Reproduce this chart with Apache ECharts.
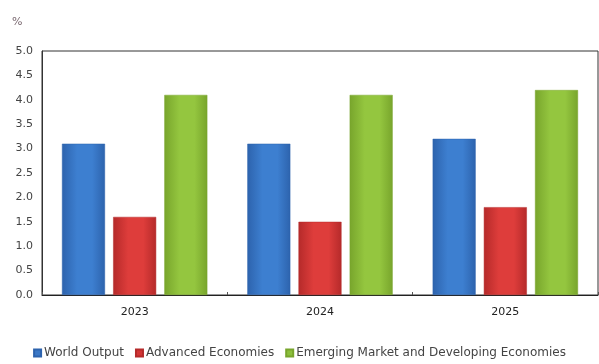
<!DOCTYPE html>
<html>
<head>
<meta charset="utf-8">
<script src="https://cdn.jsdelivr.net/npm/echarts@6/dist/echarts.min.js"></script>
<style>
  html, body { margin: 0; padding: 0; background: #fff; }
  #chart { width: 599px; height: 364px; }
</style>
</head>
<body>
<div id="chart"></div>
<script>
// Growth projections, percent
const years = ['2023', '2024', '2025'];
const worldOutput = [3.1, 3.1, 3.2];
const advancedEconomies = [1.6, 1.5, 1.8];
const emergingEconomies = [4.1, 4.1, 4.2];
const yTickLabels = ['0.0', '0.5', '1.0', '1.5', '2.0', '2.5', '3.0', '3.5', '4.0', '4.5', '5.0'];

const FONT = '"DejaVu Sans", Verdana, sans-serif';

function barFill(edge, mid) {
  return new echarts.graphic.LinearGradient(0, 0, 1, 0, [
    { offset: 0, color: edge },
    { offset: 0.35, color: mid },
    { offset: 0.7, color: mid },
    { offset: 1, color: edge }
  ]);
}

const chart = echarts.init(document.getElementById('chart'), null, { renderer: 'canvas' });

const seriesDefs = [
  { name: 'World Output', data: worldOutput, edge: '#2d63ad', mid: '#3d7fd0', legend: '#3b78c6' },
  { name: 'Advanced Economies', data: advancedEconomies, edge: '#b52a2a', mid: '#de3d3b', legend: '#d23535' },
  { name: 'Emerging Market and Developing Economies', data: emergingEconomies, edge: '#78a52c', mid: '#94c63f', legend: '#8cbf3c' }
];

chart.setOption({
  animation: false,
  backgroundColor: '#ffffff',
  textStyle: { fontFamily: FONT },
  grid: {
    left: 42, right: 1, top: 51, bottom: 69,
    show: true, borderColor: '#333', borderWidth: 1, backgroundColor: 'transparent'
  },
  graphic: [{
    type: 'text', left: 12, top: 17,
    style: { text: '%', fill: '#7a6870', font: '11px ' + FONT }
  }],
  legend: {
    bottom: 0, left: 'center',
    itemWidth: 7, itemHeight: 7, itemGap: 11,
    icon: 'rect',
    textStyle: { fontSize: 12, color: '#444', fontFamily: FONT, padding: [0, 0, 0, -2] },
    data: seriesDefs.map(s => ({ name: s.name, itemStyle: { color: s.legend } }))
  },
  xAxis: {
    type: 'category',
    data: years,
    axisLine: { lineStyle: { color: '#222', width: 1 } },
    axisTick: { show: true, inside: true, length: 3, lineStyle: { color: '#555' } },
    axisLabel: { color: '#222', fontSize: 11, margin: 12 }
  },
  yAxis: {
    type: 'value',
    min: 0, max: 5, interval: 0.5,
    splitLine: { show: false },
    axisLine: { show: true, lineStyle: { color: '#333', width: 1 } },
    axisTick: { show: false },
    axisLabel: {
      color: '#444', fontSize: 11, margin: 9,
      formatter: v => yTickLabels[Math.round(v * 2)]
    }
  },
  series: seriesDefs.map(s => ({
    name: s.name,
    type: 'bar',
    data: s.data,
    barWidth: 43,
    barGap: '19%',
    itemStyle: { color: barFill(s.edge, s.mid), borderColor: s.edge, borderWidth: 0.5 }
  }))
});
</script>
</body>
</html>
